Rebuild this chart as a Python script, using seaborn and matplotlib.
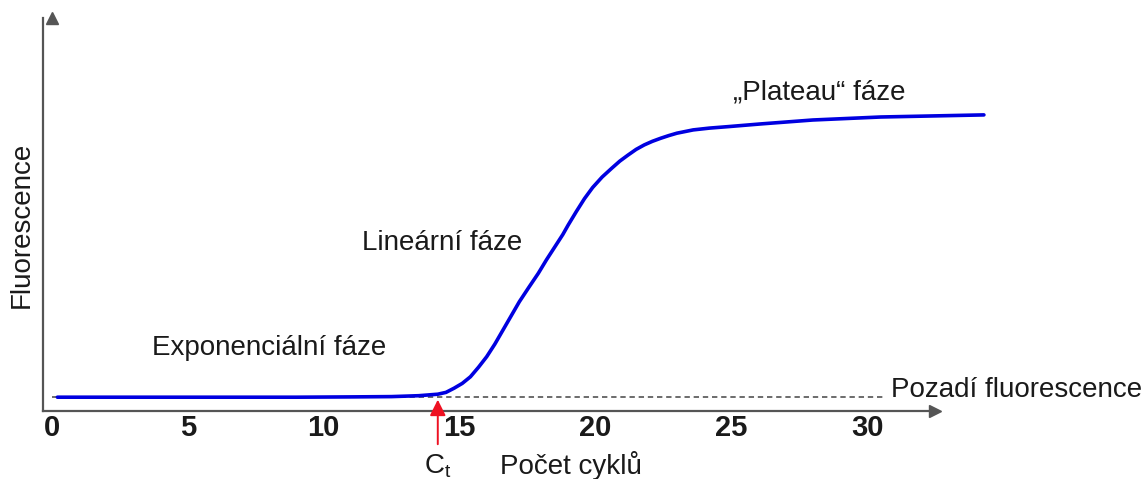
import matplotlib
matplotlib.use("Agg")
import matplotlib.pyplot as plt
import seaborn as sns
import pandas as pd

# hodnoty (cyklus, fluorescence v lib. jednotkach)
cycles = [0.2, 3.0, 6.0, 9.0, 11.0, 12.5, 13.5, 14.2, 14.5, 14.8, 15.1, 15.4,
          15.7, 16.0, 16.3, 16.6, 16.9, 17.2, 17.55, 17.9, 18.2, 18.5, 18.8,
          19.0, 19.3, 19.6, 19.9, 20.25, 20.6, 20.9, 21.2, 21.5, 21.8, 22.1,
          22.4, 22.7, 23.0, 23.6, 24.2, 24.9, 26.1, 28.0, 30.5, 34.3]
fluor = [4.6, 4.6, 4.6, 4.6, 4.7, 4.8, 5.1, 5.6, 6.2, 7.6, 9.2, 11.4,
         14.6, 18.1, 22.3, 27.0, 31.7, 36.4, 41.2, 45.9, 50.4, 54.6, 58.8,
         62.0, 66.5, 70.8, 74.5, 78.0, 80.9, 83.3, 85.3, 87.2, 88.7, 89.9,
         90.9, 91.8, 92.6, 93.7, 94.3, 94.8, 95.7, 97.0, 98.0, 98.7]
xtick_vals = [0, 5, 10, 15, 20, 25, 30]
ytick_vals = [37.3]
baseline = 4.7
ct_cycle = 14.2

df = pd.DataFrame({"cyklus": cycles, "fluorescence": fluor})

sns.set_style("white")
plt.rcParams["font.family"] = ["Liberation Sans", "DejaVu Sans"]

fig = plt.figure(figsize=(11.45, 4.79), dpi=100)
ax = fig.add_axes([43 / 1145, 68 / 479, 892 / 1145, 393 / 479])

# pozadi fluorescence
ax.plot([0, 30.7], [baseline, baseline], color="#444444", lw=1.1,
        ls=(0, (3.5, 2.5)), clip_on=False, zorder=1)

sns.lineplot(data=df, x="cyklus", y="fluorescence", ax=ax, color="#0000e0",
             lw=2.6, sort=False, estimator=None, zorder=3)
for l in ax.lines:
    l.set_clip_on(False)
    l.set_solid_joinstyle("round")
    l.set_solid_capstyle("round")

ax.set_xlim(-0.33, 32.5)
ax.set_ylim(0, 131)

for side in ["top", "right"]:
    ax.spines[side].set_visible(False)
for side in ["left", "bottom"]:
    ax.spines[side].set_color("#555555")
    ax.spines[side].set_linewidth(1.6)

# sipky na osach
ax.plot(1, 0, ">", color="#555555", ms=8, transform=ax.get_yaxis_transform(), clip_on=False)
ax.plot(0, 1, "^", color="#555555", ms=8, transform=ax.get_xaxis_transform(), clip_on=False)

ax.set_xticks(xtick_vals)
ax.set_xticklabels([str(v) for v in xtick_vals], fontsize=21, fontweight="bold", color="#1a1a1a")
ax.tick_params(axis="x", length=0, pad=2)
ax.set_yticks(ytick_vals)
ax.set_yticklabels([])
ax.tick_params(axis="y", direction="in", length=6, width=1, color="#555555")
ax.set_xlabel("")
ax.set_ylabel("")

txt = dict(fontsize=20, color="#1a1a1a")
ax.text(-1.1, 62, "Fluorescence", rotation=90, ha="center", va="center", **txt)
ax.text(3.68, 21, "Exponenciální fáze", ha="left", va="center", **txt)
ax.text(11.42, 56, "Lineární fáze", ha="left", va="center", **txt)
ax.text(25.05, 106.3, "\u201ePlateau\u201c fáze", ha="left", va="center", **txt)
ax.text(30.88, 6.9, "Pozadí fluorescence", ha="left", va="center", **txt)
ax.text(16.5, -18.3, "Počet cyklů", ha="left", va="center", **txt)
ax.text(ct_cycle, -18.3, "C$_\\mathregular{t}$", ha="center", va="center", **txt)

# Ct sipka
ax.annotate("", xy=(ct_cycle, baseline), xytext=(ct_cycle, -12),
            arrowprops=dict(arrowstyle="-|>", color="#ee1122", lw=1.4, mutation_scale=24),
            annotation_clip=False)

fig.savefig("out.png", dpi=100)
